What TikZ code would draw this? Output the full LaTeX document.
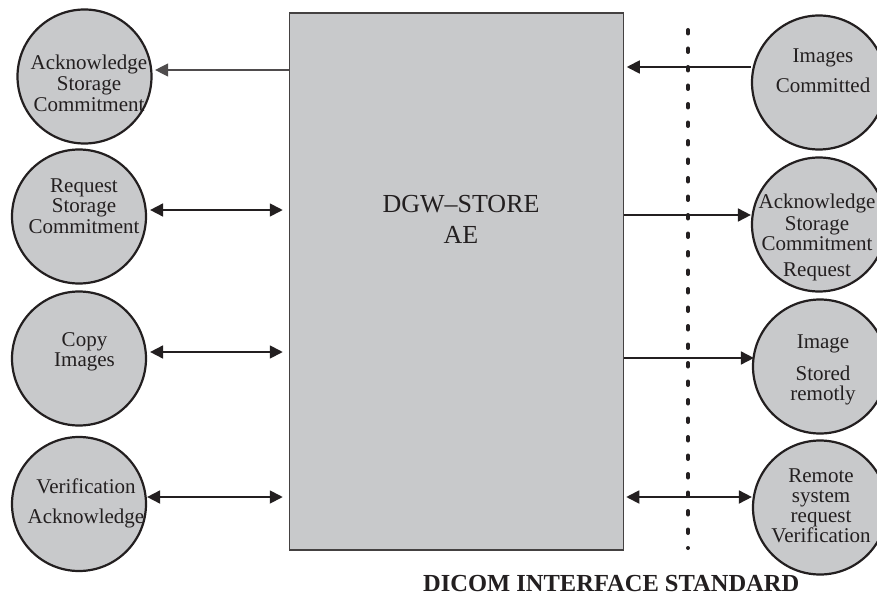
\documentclass[tikz,border=0pt]{standalone}
\usepackage{fontspec}
\setmainfont{Liberation Serif}
\usetikzlibrary{arrows.meta}
\definecolor{fillgray}{RGB}{200,201,203}
\definecolor{inkc}{RGB}{35,31,32}
\begin{document}
\begin{tikzpicture}[x=1pt,y=-1pt,
  >={Triangle[length=13pt,width=13pt]},
  bubble/.style={circle,draw=inkc,fill=fillgray,line width=2.2pt,minimum size=134pt,inner sep=0pt},
  btext/.style={align=center,anchor=base,inner sep=0pt,font=\fontsize{21}{21}\selectfont,text=inkc},
  aebox/.style={rectangle,draw=inkc!85,fill=fillgray,line width=1.5pt,inner sep=0pt,minimum width=334pt,minimum height=537pt},
  conn/.style={line width=1.8pt,draw=inkc},
  thinconn/.style={line width=1.3pt,draw=inkc!80},
  boundary/.style={line width=4pt,draw=inkc,line cap=round,dash pattern=on 3.5pt off 15pt}]
\useasboundingbox (0,0) rectangle (877,596);

% main box
\node[aebox] (box) at (456.5,281.7) {};
\node[align=center,anchor=base,inner sep=0pt,font=\fontsize{26}{30.6}\selectfont,text=inkc] (boxlabel) at (461,243.3) {DGW--STORE\\AE};

% left bubbles
\node[bubble] (L1) at (84.5,76.5) {};
\node[bubble] (L2) at (79,216.5) {};
\node[bubble] (L3) at (79,358.5) {};
\node[bubble] (L4) at (79,504) {};
% right bubbles
\node[bubble] (R1) at (819,82.5) {};
\node[bubble] (R2) at (819,224.5) {};
\node[bubble] (R3) at (820,366.5) {};
\node[bubble] (R4) at (820,507.5) {};

% bubble texts (anchored at the baseline of the last line)
\node[btext] (tL1) at (89,111.7) {Acknowledge\\Storage\\Commitment};
\node[btext] (tL2) at (84,233.3) {Request\\[-1pt]Storage\\Commitment};
\node[btext] (tL3) at (84.5,366) {Copy\\[-1pt]Images};
\node[btext] (tL4) at (86,523) {Verification\\[9pt]Acknowledge};
\node[btext] (tR1) at (823,92.7) {Images\\[9pt]Committed};
\node[btext] (tR2) at (817,276.7) {Acknowledge\\[1pt]Storage\\[-1pt]Commitment\\[5.7pt]Request};
\node[btext] (tR3) at (823,400) {Image\\[11pt]Stored\\[-1pt]remotly};
\node[btext] (tR4) at (821,542.7) {Remote\\[-1pt]system\\[-1pt]request\\[-1pt]Verification};

% levels
\coordinate (yA) at (0,70);
\coordinate (yB) at (0,210);
\coordinate (yC) at (0,352);
\coordinate (yD) at (0,497);
\coordinate (yE) at (0,67);
\coordinate (yF) at (0,215);
\coordinate (yG) at (0,358);
\coordinate (yH) at (0,497);

% left connectors
\draw[thinconn,->] (box.west |- yA) -- ([xshift=2.5pt]L1.east |- yA);
\draw[conn,<->,shorten <=6pt] (box.west |- yB) -- ([xshift=3pt]L2.east |- yB);
\draw[conn,<->,shorten <=6pt] (box.west |- yC) -- ([xshift=3pt]L3.east |- yC);
\draw[conn,<->,shorten <=6pt] (box.west |- yD) -- (L4.east |- yD);
% right connectors
\draw[conn,->,shorten >=2.5pt] (R1.west |- yE) -- (box.east |- yE);
\draw[conn,->] (box.east |- yF) -- (R2.west |- yF);
\draw[conn,->] (box.east |- yG) -- ([xshift=2pt]R3.west |- yG);
\draw[conn,<->,shorten <=2pt] (box.east |- yH) -- (R4.west |- yH);

% interface boundary
\coordinate (dtop) at (688,30);
\coordinate (dbot) at (688,548);
\draw[boundary] (dtop) -- (dbot);

\node[anchor=base west,inner sep=0pt,font=\fontsize{24.5}{24.5}\selectfont\bfseries,text=inkc] (std) at (423,591) {DICOM INTERFACE STANDARD};
\end{tikzpicture}
\end{document}
